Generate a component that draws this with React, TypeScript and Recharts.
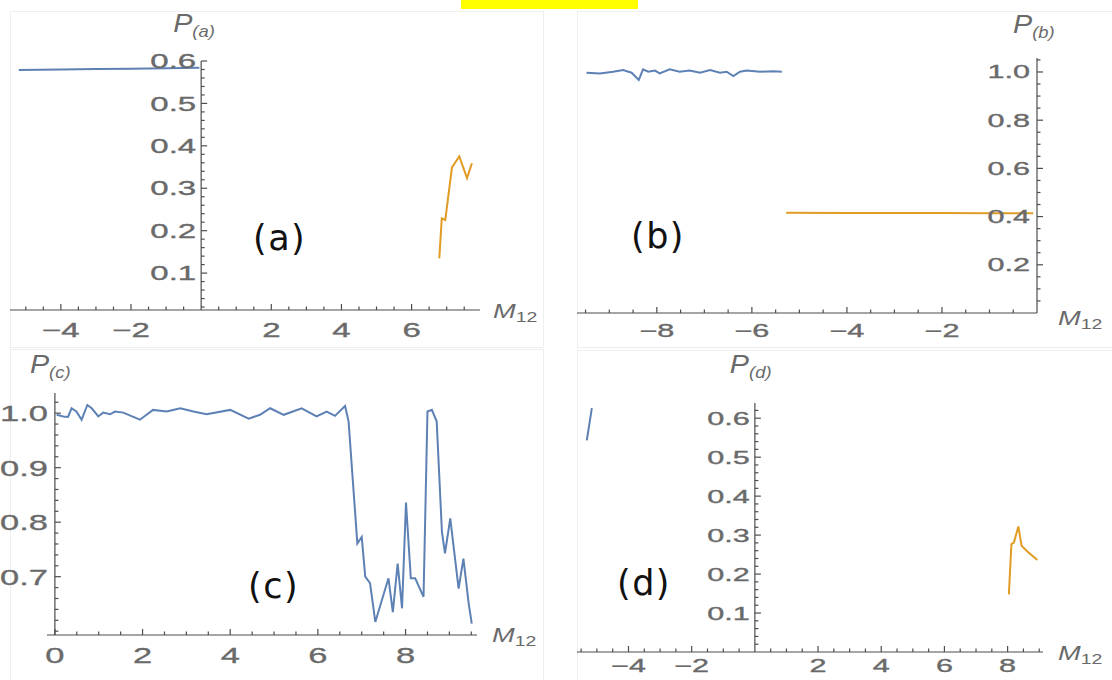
import React from 'react';
import { LineChart, Line, XAxis, YAxis, ReferenceLine, ReferenceDot } from 'recharts';

const BLUE = '#5e81b5';
const ORANGE = '#e19c24';
const AXIS_COLOR = '#4d4d4d';
const TICK_COLOR = '#6a6a6a';
const MATH_FONT = '"Liberation Sans", Arial, sans-serif';
const TAG_FONT = '"DejaVu Sans", sans-serif';

// panel (a)
const aBlueX = [-5.2, -4, -3, -2, -1, -0.05];
const aBlueY = [0.579, 0.58, 0.581, 0.582, 0.583, 0.584];
const aOrangeX = [6.79, 6.86, 6.96, 7.15, 7.36, 7.58, 7.72];
const aOrangeY = [0.135, 0.229, 0.225, 0.349, 0.375, 0.324, 0.359];
const aXTicks = [-4, -2, 2, 4, 6];
const aYTicks = [0.1, 0.2, 0.3, 0.4, 0.5, 0.6];

// panel (b)
const bBlueX = [-9.48, -9.2, -8.92, -8.71, -8.53, -8.38, -8.29, -8.18, -8.04, -7.94, -7.73, -7.52,
    -7.31, -7.09, -6.88, -6.67, -6.53, -6.39, -6.25, -6.11, -5.83, -5.55, -5.37];
const bBlueY = [0.997, 0.994, 1.001, 1.008, 0.997, 0.967, 1.011, 1.001, 1.006, 0.994, 1.011, 1.001,
    1.006, 0.997, 1.008, 0.997, 1.001, 0.983, 1.001, 1.006, 1.001, 1.003, 1.001];
const bOrangeX = [-5.28, -4, -3, -2, -1, -0.08];
const bOrangeY = [0.416, 0.415, 0.415, 0.415, 0.414, 0.414];
const bXTicks = [-8, -6, -4, -2];
const bYTicks = [0.2, 0.4, 0.6, 0.8, 1.0];

// panel (c)
const cBlueX = [0.04, 0.19, 0.3, 0.38, 0.49, 0.61, 0.74, 0.84, 0.99, 1.1, 1.26, 1.37, 1.56, 1.94,
    2.24, 2.55, 2.86, 3.16, 3.46, 4.0, 4.42, 4.68, 4.91, 5.22, 5.63, 5.97, 6.2, 6.39, 6.62, 6.7,
    6.9, 7.0, 7.08, 7.19, 7.31, 7.61, 7.71, 7.82, 7.92, 8.01, 8.12, 8.22, 8.41, 8.5, 8.6, 8.71,
    8.83, 8.9, 9.02, 9.21, 9.32, 9.44, 9.51];
const cBlueY = [0.997, 0.994, 0.993, 1.009, 1.003, 0.988, 1.015, 1.009, 0.994, 1.001, 0.998, 1.003,
    1.001, 0.988, 1.006, 1.003, 1.009, 1.003, 0.998, 1.006, 0.99, 0.997, 1.009, 0.997, 1.009, 0.994,
    1.003, 0.995, 1.013, 0.985, 0.761, 0.773, 0.70, 0.688, 0.617, 0.697, 0.635, 0.724, 0.642, 0.836,
    0.697, 0.697, 0.663, 1.003, 1.006, 0.985, 0.782, 0.743, 0.807, 0.678, 0.733, 0.651, 0.614];
const cXTicks = [0, 2, 4, 6, 8];
const cYTicks = [0.7, 0.8, 0.9, 1.0];

// panel (d)
const dBlueX = [-5.32, -5.16];
const dBlueY = [0.543, 0.626];
const dOrangeX = [8.04, 8.12, 8.2, 8.34, 8.44, 8.6, 8.94];
const dOrangeY = [0.148, 0.277, 0.281, 0.322, 0.273, 0.26, 0.236];
const dXTicks = [-4, -2, 2, 4, 6, 8];
const dYTicks = [0.1, 0.2, 0.3, 0.4, 0.5, 0.6];

interface Series { color: string; xs: number[]; ys: number[] }

const zip = (xs: number[], ys: number[]) => xs.map((x, i) => ({ x, y: ys[i] }));
const isIn = (arr: number[], v: number) => arr.some(a => Math.abs(a - v) < 1e-6);
const minorTicks = (from: number, to: number, step: number, majors: number[]) => {
    const out: number[] = [];
    for (let v = from; v <= to + 1e-9; v += step) {
        const r = Number(v.toFixed(4));
        if (!isIn(majors, r) && Math.abs(r) > 1e-6) out.push(r);
    }
    return out;
};
const fmtX = (v: number) => (v < 0 ? '\u2212' + String(-v) : String(v));

interface PanelProps {
    left: number; top: number; width: number; height: number;
    margin: { top: number; right: number; bottom: number; left: number };
    xAxisHeight: number;
    xDomain: [number, number]; yDomain: [number, number];
    xMajor: number[]; xMinor: number[];
    yMajor: number[]; yMinor: number[];
    series: Series[];
    fontSize: number; stretch: number;
    xLabelDy: number; yLabelGap: number;
    pSub: string; pDx: number; pDy: number;
    mDx: number; mDy: number;
}

function Panel(p: PanelProps) {
    const xTicks = [...p.xMajor, ...p.xMinor].sort((a, b) => a - b);
    const yTicks = [...p.yMajor, ...p.yMinor];
    const fs = p.fontSize;

    const renderXTick = (t: any) => {
        const v = t.payload.value;
        const major = isIn(p.xMajor, v);
        return (
            <g>
                <line x1={t.x} x2={t.x} y1={t.y} y2={t.y - (major ? 6 : 3.5)} stroke={AXIS_COLOR} strokeWidth={1.2} />
                {major && (
                    <text
                        transform={`translate(${t.x},${t.y + p.xLabelDy}) scale(${p.stretch},1)`}
                        textAnchor="middle" fontSize={fs} fontFamily={MATH_FONT} fill={TICK_COLOR}
                        stroke={TICK_COLOR} strokeWidth={0.35}
                    >
                        {fmtX(v)}
                    </text>
                )}
            </g>
        );
    };

    return (
        <div style={{ position: 'absolute', left: p.left, top: p.top }}>
            <LineChart width={p.width} height={p.height} margin={p.margin}>
                <XAxis
                    type="number"
                    dataKey="x"
                    domain={p.xDomain}
                    allowDataOverflow
                    ticks={xTicks}
                    interval={0}
                    tickLine={false}
                    tickSize={0}
                    tickMargin={0}
                    height={p.xAxisHeight}
                    axisLine={{ stroke: AXIS_COLOR, strokeWidth: 1.2 }}
                    tick={renderXTick}
                />
                <YAxis type="number" domain={p.yDomain} allowDataOverflow hide />
                <ReferenceLine x={0} stroke={AXIS_COLOR} strokeWidth={1.2} ifOverflow="visible" />
                {yTicks.map(v => (
                    <ReferenceDot
                        key={'y' + v}
                        x={0}
                        y={v}
                        r={0}
                        ifOverflow="visible"
                        shape={(d: any) => {
                            const major = isIn(p.yMajor, v);
                            return (
                                <g>
                                    <line x1={d.cx} x2={d.cx + (major ? 6 : 3.5)} y1={d.cy} y2={d.cy} stroke={AXIS_COLOR} strokeWidth={1.2} />
                                    {major && (
                                        <text
                                            transform={`translate(${d.cx - p.yLabelGap},${d.cy + fs * 0.36}) scale(${p.stretch},1)`}
                                            textAnchor="end" fontSize={fs} fontFamily={MATH_FONT} fill={TICK_COLOR}
                                            stroke={TICK_COLOR} strokeWidth={0.35}
                                        >
                                            {v.toFixed(1)}
                                        </text>
                                    )}
                                </g>
                            );
                        }}
                    />
                ))}
                <ReferenceDot
                    x={0}
                    y={p.yDomain[1]}
                    r={0}
                    ifOverflow="visible"
                    shape={(d: any) => (
                        <text
                            transform={`translate(${d.cx + p.pDx},${d.cy + p.pDy}) scale(1.15,1)`}
                            fontFamily={MATH_FONT} fill={TICK_COLOR} fontStyle="italic"
                        >
                            <tspan fontSize={25}>P</tspan>
                            <tspan fontSize={16} dy={5}>{p.pSub}</tspan>
                        </text>
                    )}
                />
                <ReferenceDot
                    x={p.xDomain[1]}
                    y={p.yDomain[0]}
                    r={0}
                    ifOverflow="visible"
                    shape={(d: any) => (
                        <text
                            transform={`translate(${d.cx + p.mDx},${d.cy + p.mDy}) scale(1.3,1)`}
                            fontFamily={MATH_FONT} fill={TICK_COLOR}
                        >
                            <tspan fontSize={21} fontStyle="italic">M</tspan>
                            <tspan fontSize={15} dy={4}>12</tspan>
                        </text>
                    )}
                />
                {p.series.map((s, i) => (
                    <Line
                        key={i}
                        data={zip(s.xs, s.ys)}
                        dataKey="y"
                        type="linear"
                        stroke={s.color}
                        strokeWidth={2}
                        dot={false}
                        activeDot={false}
                        isAnimationActive={false}
                    />
                ))}
            </LineChart>
        </div>
    );
}

const frame = (left: number, top: number, width: number, height: number) => (
    <div style={{ position: 'absolute', left, top, width, height, border: '1px solid #efefef' }} />
);

export default function App() {
    return (
        <div style={{ position: 'absolute', left: 0, top: 0, width: 1112, height: 680, background: '#fff', overflow: 'hidden' }}>
            <div style={{ position: 'absolute', left: 461, top: 0, width: 177, height: 9, background: '#ffff00' }} />
            {frame(10, 11, 532, 335)}
            {frame(577, 11, 540, 335)}
            {frame(10, 349, 532, 340)}
            {frame(577, 350, 540, 340)}

            <Panel
                left={0} top={0} width={545} height={345}
                margin={{ top: 61, right: 65, bottom: 5, left: 10 }}
                xAxisHeight={30}
                xDomain={[-5.45, 7.95]} yDomain={[0.013, 0.6]}
                xMajor={aXTicks} xMinor={minorTicks(-5, 7.5, 0.5, aXTicks)}
                yMajor={aYTicks} yMinor={minorTicks(0.02, 0.58, 0.02, aYTicks)}
                series={[{ color: BLUE, xs: aBlueX, ys: aBlueY }, { color: ORANGE, xs: aOrangeX, ys: aOrangeY }]}
                fontSize={20} stretch={1.65} xLabelDy={27} yLabelGap={5}
                pSub="(a)" pDx={-28} pDy={-29} mDx={13} mDy={8}
            />
            <Panel
                left={560} top={0} width={552} height={345}
                margin={{ top: 58, right: 75, bottom: 2, left: 17 }}
                xAxisHeight={30}
                xDomain={[-9.68, 0]} yDomain={[0, 1.058]}
                xMajor={bXTicks} xMinor={minorTicks(-9.5, -0.5, 0.5, bXTicks)}
                yMajor={bYTicks} yMinor={minorTicks(0.05, 1.05, 0.05, bYTicks)}
                series={[{ color: BLUE, xs: bBlueX, ys: bBlueY }, { color: ORANGE, xs: bOrangeX, ys: bOrangeY }]}
                fontSize={18} stretch={1.7} xLabelDy={24} yLabelGap={7}
                pSub="(b)" pDx={-24} pDy={-25} mDx={21} mDy={12}
            />
            <Panel
                left={0} top={345} width={545} height={335}
                margin={{ top: 48, right: 68, bottom: 15, left: 47 }}
                xAxisHeight={30}
                xDomain={[-0.18, 9.63]} yDomain={[0.593, 1.037]}
                xMajor={cXTicks} xMinor={minorTicks(0.5, 9.5, 0.5, cXTicks)}
                yMajor={cYTicks} yMinor={minorTicks(0.6, 1.02, 0.02, cYTicks)}
                series={[{ color: BLUE, xs: cBlueX, ys: cBlueY }]}
                fontSize={23} stretch={1.5} xLabelDy={28} yLabelGap={7}
                pSub="(c)" pDx={-25} pDy={-20} mDx={15} mDy={7}
            />
            <Panel
                left={560} top={345} width={552} height={335}
                margin={{ top: 58, right: 69, bottom: 0, left: 17 }}
                xAxisHeight={28}
                xDomain={[-5.63, 9.12]} yDomain={[0, 0.639]}
                xMajor={dXTicks} xMinor={minorTicks(-5.5, 9, 0.5, dXTicks)}
                yMajor={dYTicks} yMinor={minorTicks(0.02, 0.62, 0.02, dYTicks)}
                series={[{ color: BLUE, xs: dBlueX, ys: dBlueY }, { color: ORANGE, xs: dOrangeX, ys: dOrangeY }]}
                fontSize={18} stretch={1.7} xLabelDy={20} yLabelGap={5}
                pSub="(d)" pDx={-25} pDy={-30} mDx={15} mDy={8}
            />

            <svg width={1112} height={680} style={{ position: 'absolute', left: 0, top: 0, pointerEvents: 'none' }}>
                <text x={253} y={250} fontFamily={TAG_FONT} fontSize={35} letterSpacing={1.5} fill="#111">(a)</text>
                <text x={631} y={248} fontFamily={TAG_FONT} fontSize={35} letterSpacing={1.5} fill="#111">(b)</text>
                <text x={248} y={598} fontFamily={TAG_FONT} fontSize={35} letterSpacing={1.5} fill="#111">(c)</text>
                <text x={617} y={595} fontFamily={TAG_FONT} fontSize={35} letterSpacing={1.5} fill="#111">(d)</text>
            </svg>
        </div>
    );
}
